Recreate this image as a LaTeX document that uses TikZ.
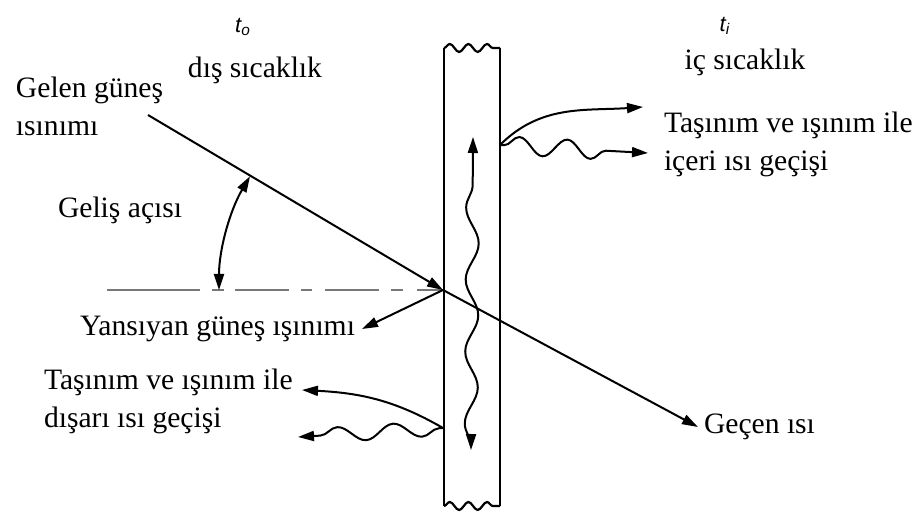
\documentclass[tikz,border=0pt]{standalone}
\usepackage{fontspec}
\setmainfont{Liberation Serif}
\newfontfamily\sansf{Liberation Sans}
\usetikzlibrary{arrows.meta, decorations.pathmorphing}
\definecolor{cgris}{RGB}{120,120,120}

\begin{document}
\begin{tikzpicture}[x=0.5pt, y=0.5pt, line width=1pt, >={Triangle[length=8pt, width=5pt]},
    etq/.style={font=\fontsize{14.8}{19}\selectfont, align=left, inner sep=0pt},
    temp/.style={font=\sansf\itshape\fontsize{11}{13}\selectfont, inner sep=0pt},
    onda/.style 2 args={decorate, decoration={snake, amplitude=#1, segment length=#2, pre length=2pt, post length=10pt}},
    borde/.style={decorate, decoration={snake, amplitude=2pt, segment length=9.3pt}}]

  \useasboundingbox (0,0) rectangle (912,-513);

  % pared
  \coordinate (p1) at (444,-48);
  \coordinate (p2) at (500,-48);
  \coordinate (p3) at (500,-506);
  \coordinate (p4) at (444,-506);
  \draw[line width=1.3pt] (p1) -- (p4);
  \draw[line width=1.3pt] (p2) -- (p3);
  \draw[line width=1.1pt, borde] (p1) -- (p2);
  \draw[line width=1.1pt, borde] (p4) -- (p3);

  % textos
  \node[temp] (to) at (243,-27) {t\textsubscript{o}};
  \node[temp] (ti) at (725,-26) {t\textsubscript{i}};
  \node[etq] (dist) at (255,-70) {dış sıcaklık};
  \node[etq] (ict) at (745,-62) {iç sıcaklık};
  \node[etq, anchor=west] (gelen) at (15,-106) {Gelen güneş\\ısınımı};
  \node[etq, anchor=west] (gelis) at (57,-210) {Geliş açısı};
  \node[etq, anchor=east, inner xsep=3pt] (yans) at (362,-329) {Yansıyan güneş ışınımı};
  \node[etq, anchor=west, inner xsep=2.5pt] (gecen) at (698,-427) {Geçen ısı};
  \node[etq, anchor=west] (icgec) at (663,-144) {Taşınım ve ışınım ile\\içeri ısı geçişi};
  \node[etq, anchor=west] (disgec) at (43,-401) {Taşınım ve ışınım ile\\dışarı ısı geçişi};

  % rayos
  \coordinate (hit) at (443,-290);
  \coordinate (src) at (148,-115);
  \coordinate (ref) at (107,-290);
  \draw[cgris, dash pattern=on 46.5pt off 6pt on 6pt off 5.5pt on 27pt off 6pt on 5.5pt off 6.5pt on 27pt off 6pt on 6pt off 7pt on 15pt] (ref) -- (hit);
  \draw[->] (src) -- (hit);
  \draw[->] (hit) -- (gecen.west);
  \draw[->] (hit) -- (yans.east);
  \draw[<->] ([shift={(180:224)}]hit) arc[start angle=180, end angle=149.5, radius=224];

  % conducción en la pared
  \coordinate (iarr) at (473,-137);
  \coordinate (iaba) at (471,-450);
  \draw[<->, onda={3.2pt}{36pt}] (iaba) -- (iarr);

  % hacia dentro
  \coordinate (ic) at (500,-145);
  \coordinate (icc) at (643,-107);
  \coordinate (icr) at (648,-153);
  \draw[->] (ic) to[out=45, in=184] (icc);
  \draw[->, onda={4.5pt}{24pt}] (ic) -- (icr);

  % hacia fuera
  \coordinate (dis) at (443,-428);
  \coordinate (disc) at (302,-390);
  \coordinate (disr) at (298,-437);
  \draw[->] (dis) to[out=150, in=-3] (disc);
  \draw[->, onda={3.7pt}{28pt}] (dis) -- (disr);
\end{tikzpicture}
\end{document}
